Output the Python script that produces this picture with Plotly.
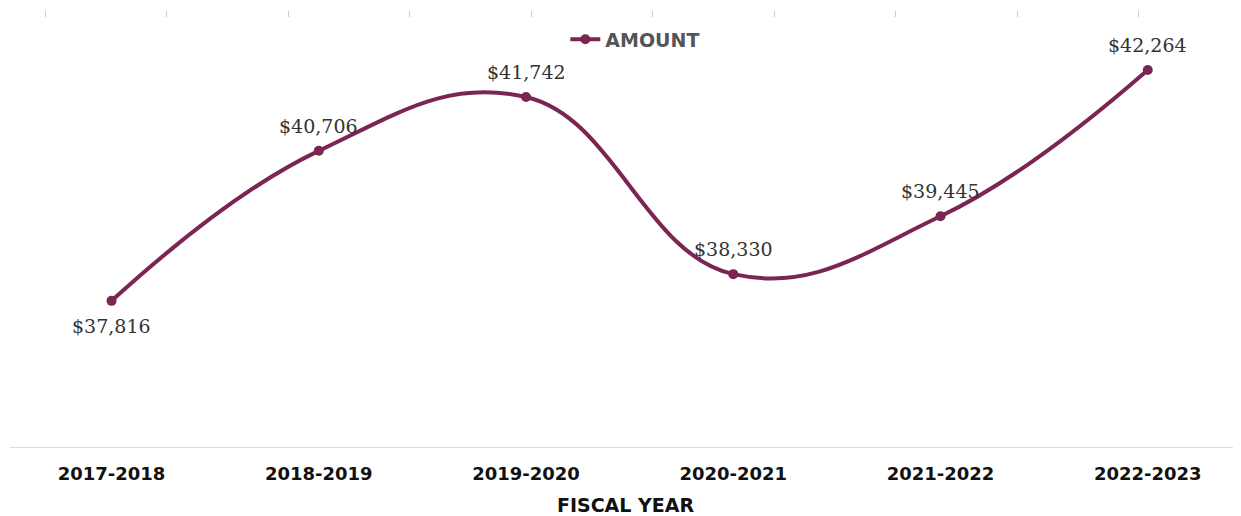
import plotly.graph_objects as go

years = ["2017-2018", "2018-2019", "2019-2020", "2020-2021", "2021-2022", "2022-2023"]
amounts = [37816, 40706, 41742, 38330, 39445, 42264]
labels = ["$37,816", "$40,706", "$41,742", "$38,330", "$39,445", "$42,264"]
label_side = [-1, 1, 1, 1, 1, 1]  # -1 below the point, 1 above

color = "#7b2553"

fig = go.Figure()
fig.add_trace(go.Scatter(
    x=years, y=amounts, name="AMOUNT",
    mode="lines+markers",
    line=dict(color=color, width=4, shape="spline", smoothing=1.2),
    marker=dict(color=color, size=10),
    cliponaxis=False,
))

# helper trace so the top tick axis is drawn (no visible data)
fig.add_trace(go.Scatter(x=[10, 1241], y=[None, None], xaxis="x2", mode="lines",
                         showlegend=False, hoverinfo="skip"))

for yr, val, lab, side in zip(years, amounts, labels, label_side):
    fig.add_annotation(x=yr, y=val, text=lab, showarrow=False, yshift=25 * side,
                       font=dict(family="DejaVu Serif", size=19, color="#333333"))

fig.update_layout(
    width=1233, height=508,
    margin=dict(l=2, r=0, t=3, b=69),
    paper_bgcolor="white", plot_bgcolor="white",
    showlegend=True,
    legend=dict(orientation="h", x=0.508, xanchor="center", y=0.935, yanchor="middle",
                font=dict(family="DejaVu Sans", size=19, color="#555555", weight="bold"),
                bgcolor="rgba(0,0,0,0)"),
    xaxis=dict(
        range=[-0.49, 5.45], showgrid=False, zeroline=False,
        showline=True, linecolor="#dddddd", linewidth=1,
        ticks="", ticklabelstandoff=10,
        tickfont=dict(family="DejaVu Sans", size=18, color="#111111", weight="bold"),
        title=dict(text="FISCAL YEAR", font=dict(family="DejaVu Sans", size=19, color="#111111", weight="bold"), standoff=16),
    ),
    xaxis2=dict(
        overlaying="x", side="top", anchor="y", range=[10, 1241],
        tick0=45, dtick=121.5, ticks="inside", ticklen=6, tickcolor="#cccccc",
        showticklabels=False, showgrid=False, zeroline=False, showline=False,
    ),
    yaxis=dict(range=[35000, 43400], visible=False, showgrid=False, zeroline=False),
)

fig.write_html("out.html")
